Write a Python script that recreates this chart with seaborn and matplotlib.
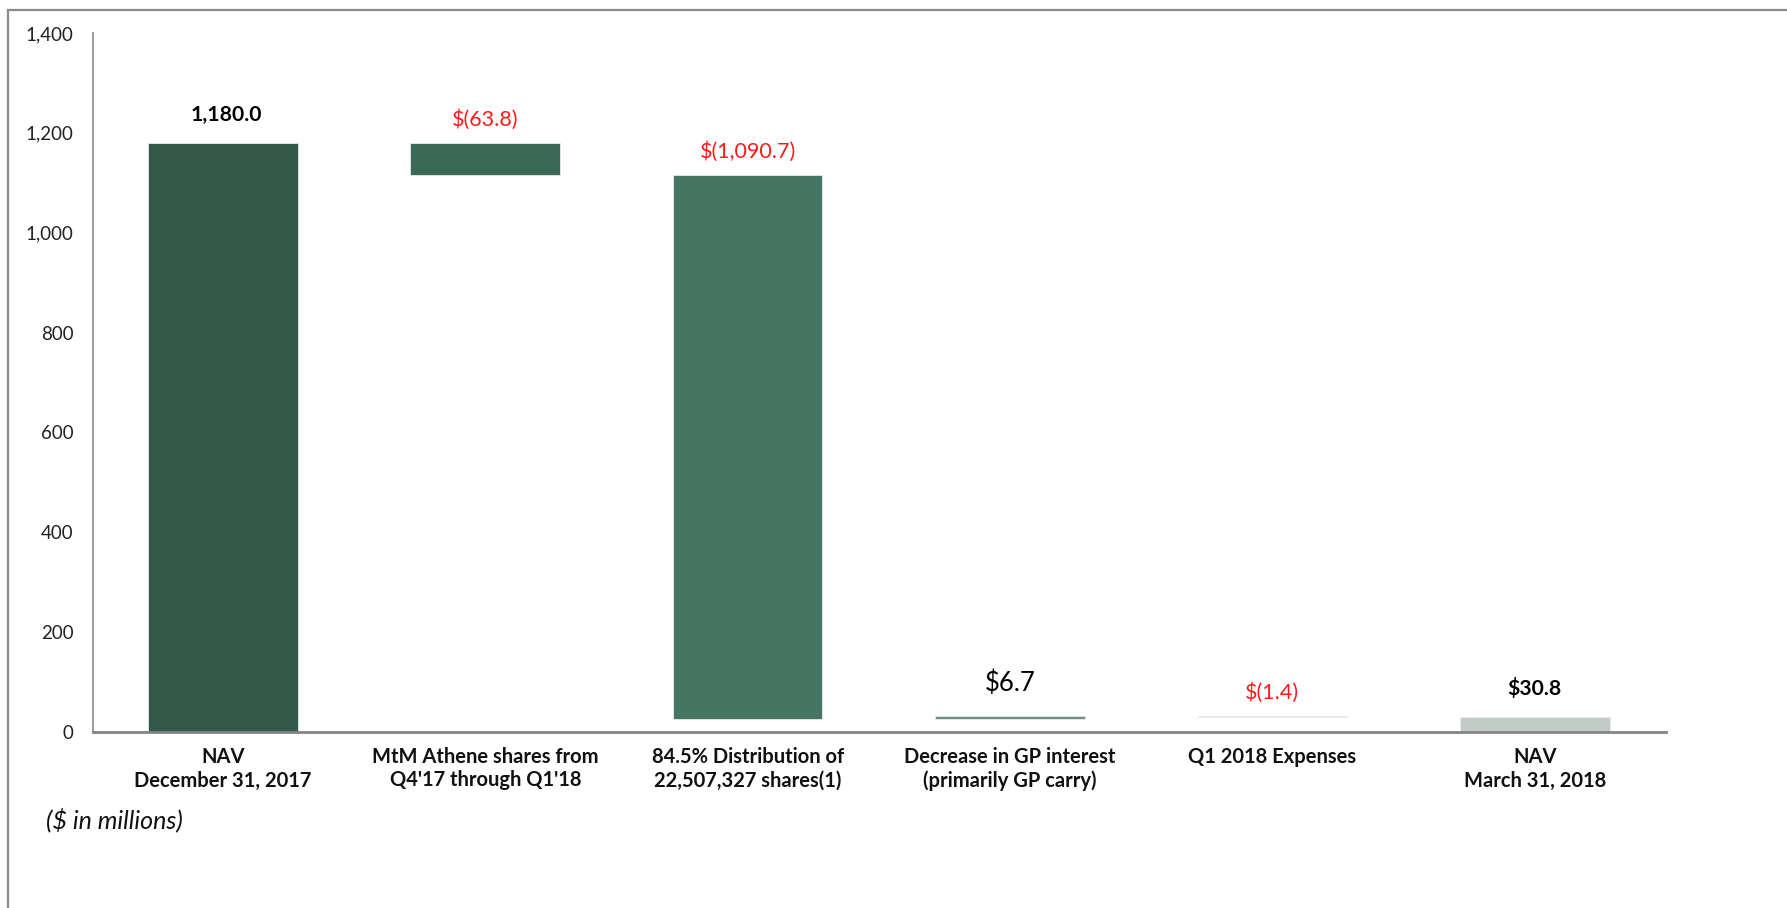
import matplotlib
matplotlib.use("Agg")
import matplotlib.pyplot as plt
import seaborn as sns
import pandas as pd
from matplotlib.patches import Rectangle

# Waterfall data ($ in millions)
categories = [
    "NAV\nDecember 31, 2017",
    "MtM Athene shares from\nQ4'17 through Q1'18",
    "84.5% Distribution of\n22,507,327 shares(1)",
    "Decrease in GP interest\n(primarily GP carry)",
    "Q1 2018 Expenses",
    "NAV\nMarch 31, 2018",
]
changes = [1180.0, -63.8, -1090.7, 6.7, -1.4, 30.8]
is_total = [True, False, False, False, False, True]
value_labels = ["1,180.0", "$(63.8)", "$(1,090.7)", "$6.7", "$(1.4)", "$30.8"]
bar_colors = ["#33594a", "#3b6857", "#467563", "#6e8e80", "#c8d2cd", "#c2ccc6"]
y_ticks = [0, 200, 400, 600, 800, 1000, 1200, 1400]

# running totals -> bottom and height of each floating bar
bottoms, heights = [], []
level = 0.0
for chg, total in zip(changes, is_total):
    if total:
        bottoms.append(0.0)
        heights.append(chg)
        level = chg
    else:
        new_level = level + chg
        bottoms.append(min(level, new_level))
        heights.append(abs(chg))
        level = new_level

df = pd.DataFrame({"step": categories, "height": heights, "bottom": bottoms})

sns.set_style("white")
plt.rcParams["font.family"] = ["Lato", "DejaVu Sans"]

fig = plt.figure(figsize=(17.87, 9.08), dpi=100)
ax = fig.add_axes([93 / 1787, 1 - 732 / 908, (1666 - 93) / 1787, (732 - 33) / 908])

sns.barplot(data=df, x="step", y="height", order=categories, bottom=df["bottom"].values,
            color=bar_colors[0], saturation=1, width=0.57, errorbar=None, ax=ax,
            edgecolor="#e8ecea", linewidth=0.6)
for patch, col in zip(ax.patches, bar_colors):
    patch.set_facecolor(col)

# value labels: totals bold black, decreases red, increase plain black
for i, (lab, chg, total) in enumerate(zip(value_labels, changes, is_total)):
    top = bottoms[i] + heights[i]
    if total:
        color, weight, size, off = "black", "bold", 15.2, 28
    elif chg < 0:
        color, weight, size, off = "#ff1a1a", "normal", 15.5, 23
    else:
        color, weight, size, off = "black", "normal", 18.5, 33
    ax.annotate(lab, (i, top), xytext=(3 if i == 0 else 0, off), textcoords="offset pixels",
                ha="center", va="center", color=color, fontweight=weight, fontsize=size)

ax.set_xlim(-0.495, 5.5)
ax.set_ylim(0, 1400)
ax.set_yticks(y_ticks)
ax.set_yticklabels([f"{t:,}" for t in y_ticks], fontsize=13.5, color="#222222")
ax.set_xticks(range(len(categories)))
ax.set_xticklabels(categories, fontsize=14.5, fontweight="bold", color="#111111", linespacing=1.2)
ax.tick_params(axis="y", length=0, pad=14)
ax.tick_params(axis="x", length=0, pad=11)
ax.set_xlabel("")
ax.set_ylabel("")

for side in ["top", "right"]:
    ax.spines[side].set_visible(False)
ax.spines["left"].set_color("#a0a0a0")
ax.spines["left"].set_linewidth(1.5)
ax.spines["bottom"].set_color("#848484")
ax.spines["bottom"].set_linewidth(2)

fig.text(46 / 1787, 1 - 820 / 908, "($ in millions)", fontsize=18, style="italic",
         va="center", ha="left", color="#111111")

# outer frame (cut off at right and bottom)
frame = Rectangle((8 / 1787, -0.1), 1.2, 1.1 - 10 / 908, transform=fig.transFigure,
                  fill=False, edgecolor="#8a8a8a", linewidth=1.6, clip_on=False)
fig.patches.append(frame)

fig.savefig("out.png", dpi=100)
